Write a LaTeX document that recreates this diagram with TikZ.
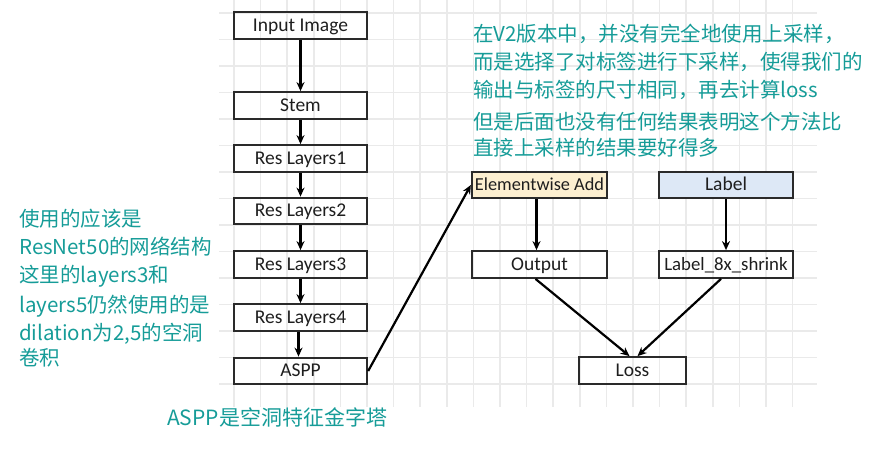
\documentclass[tikz,border=0pt]{standalone}
\usepackage{fontspec}
\setmainfont{Carlito}
\newfontfamily\cjk{Noto Sans CJK SC}
\usetikzlibrary{arrows.meta}
\definecolor{gridc}{HTML}{EAEAEA}
\definecolor{annot}{HTML}{169C98}
\definecolor{boxc}{HTML}{2A2A2A}
\definecolor{textc}{HTML}{1E1E1E}
\definecolor{addfill}{HTML}{FCEFD0}
\definecolor{labfill}{HTML}{DDE8F6}
\begin{document}
\begin{tikzpicture}[x=1pt,y=-1pt,
  box/.style={draw=boxc,line width=2.3pt,minimum width=133pt,minimum height=26.5pt,inner sep=0pt,text height=12.5pt,text depth=1.5pt,font=\fontsize{19.5}{22}\selectfont,text=textc},
  arr/.style={-{Stealth[length=9pt,width=8pt]},line width=2.2pt,draw=black},
  note/.style={anchor=west,inner sep=0pt,text=annot,font=\cjk\fontsize{20.5}{24}\selectfont},
  gridline/.style={draw=gridc,line width=1.5pt}]
\useasboundingbox (0,0) rectangle (872,461);
\foreach \k in {0,...,14} \draw[gridline] (219,{13+\k*26.5}) -- (817,{13+\k*26.5});
\foreach \k in {0,...,21} \draw[gridline] ({234+\k*26.6},0) -- ({234+\k*26.6},407);

\node[box] (in) at (300.5,25.5) {Input Image};
\node[box] (stem) at (300.5,105.5) {Stem};
\node[box] (r1) at (300.5,158.5) {Res Layers1};
\node[box] (r2) at (300.5,211) {Res Layers2};
\node[box] (r3) at (300.5,264.5) {Res Layers3};
\node[box] (r4) at (300.5,317.5) {Res Layers4};
\node[box] (aspp) at (300.5,371) {ASPP};
\node[box,minimum width=135pt,fill=addfill,font=\fontsize{18.3}{22}\selectfont] (add) at (539.5,185) {Elementwise Add};
\node[box,minimum width=135pt] (out) at (539.5,264.5) {Output};
\node[box,minimum width=134pt,fill=labfill] (lab) at (726,185) {Label};
\node[box,minimum width=134pt,font=\fontsize{18.8}{22}\selectfont] (lab8) at (726,264.5) {Label\_8x\_shrink};
\node[box,minimum width=107pt] (loss) at (632.5,370.5) {Loss};

\draw[arr] (in) -- (stem);
\draw[arr] (stem) -- (r1);
\draw[arr] (r1) -- (r2);
\draw[arr] (r2) -- (r3);
\draw[arr] (r3) -- (r4);
\draw[arr] ([xshift=-2pt]r4.south) -- ([xshift=-2pt]aspp.north);
\draw[arr] (aspp.east) -- (add.west);
\draw[arr] ([xshift=-3pt]add.south) -- ([xshift=-3pt]out.north);
\draw[arr] (lab) -- (lab8);
\draw[arr] ([xshift=-4pt]out.south) -- ([xshift=-3pt]loss.north);
\draw[arr] ([xshift=-5pt]lab8.south) -- ([xshift=5pt]loss.north);

\node[note] (t1) at (473,34) {在V2版本中，并没有完全地使用上采样，};
\node[note] (t2) at (473,62) {而是选择了对标签进行下采样，使得我们的};
\node[note] (t3) at (473,90) {输出与标签的尺寸相同，再去计算loss};
\node[note] (t4) at (473,122) {但是后面也没有任何结果表明这个方法比};
\node[note] (t5) at (473,148) {直接上采样的结果要好得多};

\node[note] (l1) at (19,219) {使用的应该是};
\node[note] (l2) at (19,247) {ResNet50的网络结构};
\node[note] (l3) at (19,276) {这里的layers3和};
\node[note] (l4) at (19,306) {layers5仍然使用的是};
\node[note] (l5) at (19,334) {dilation为2,5的空洞};
\node[note] (l6) at (19,358) {卷积};

\node[note,font=\cjk\fontsize{21}{25}\selectfont] (b1) at (167,417) {ASPP是空洞特征金字塔};
\end{tikzpicture}
\end{document}
